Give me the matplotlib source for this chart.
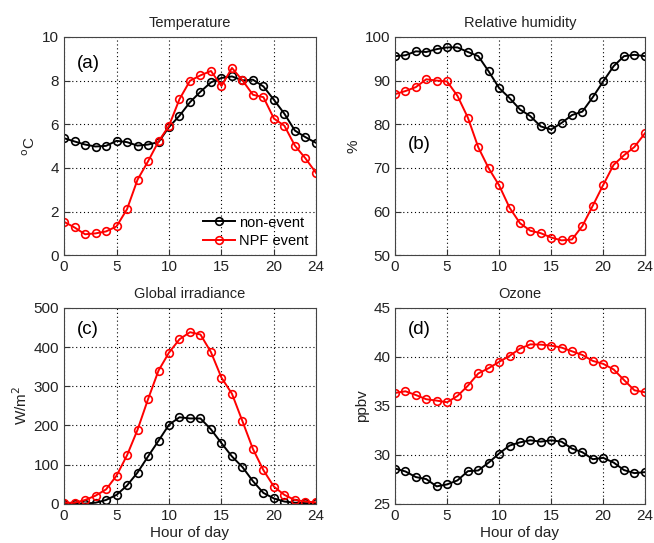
import matplotlib
matplotlib.use("Agg")
import matplotlib.pyplot as plt
import numpy as np

plt.rcParams['font.family'] = ['Liberation Sans', 'DejaVu Sans']

hours = list(range(25))

temp_non = [5.36, 5.21, 5.07, 4.98, 5.01, 5.24, 5.18, 5.02, 5.07, 5.18, 5.87, 6.39, 7.01,
            7.49, 7.92, 8.12, 8.19, 8.01, 8.04, 7.73, 7.12, 6.48, 5.71, 5.41, 5.15]
temp_npf = [1.53, 1.27, 0.96, 1.00, 1.09, 1.32, 2.11, 3.46, 4.30, 5.21, 5.93, 7.15, 7.99,
            8.24, 8.44, 7.75, 8.58, 8.01, 7.35, 7.24, 6.26, 5.93, 5.02, 4.44, 3.78]

rh_non = [95.6, 95.8, 96.7, 96.55, 97.2, 97.6, 97.6, 96.55, 95.6, 92.1, 88.3, 86.0, 83.4,
          81.85, 79.5, 78.8, 80.3, 82.1, 82.9, 86.2, 89.8, 93.3, 95.6, 95.9, 95.6]
rh_npf = [86.9, 87.6, 88.5, 90.3, 90.0, 89.8, 86.5, 81.5, 74.7, 69.9, 66.0, 60.9, 57.35,
          55.6, 55.05, 54.05, 53.4, 53.6, 56.7, 61.35, 66.1, 70.7, 72.9, 74.8, 77.9]

irr_non = [1, 1, 1, 3, 10, 23, 47, 80, 121, 161, 202, 221, 218,
           218, 190, 155, 121, 94, 58, 28, 14, 6, 3, 2, 2]
irr_npf = [3, 3, 10, 21, 37, 72, 124, 189, 267, 340, 386, 420, 438,
           432, 387, 322, 281, 211, 140, 86, 44, 23, 10, 6, 4]

o3_non = [28.61, 28.31, 27.74, 27.53, 26.79, 26.99, 27.40, 28.34, 28.41, 29.22, 30.14, 30.95, 31.28,
          31.49, 31.35, 31.49, 31.35, 30.64, 30.27, 29.56, 29.70, 29.22, 28.45, 28.14, 28.24]
o3_npf = [36.32, 36.49, 36.11, 35.68, 35.54, 35.37, 36.01, 37.06, 38.31, 38.85, 39.49, 40.10, 40.84,
          41.28, 41.25, 41.15, 40.95, 40.57, 40.20, 39.59, 39.29, 38.72, 37.64, 36.59, 36.39]

xticks = [0, 5, 10, 15, 20, 24]

panels = [
    dict(title='Temperature', non=temp_non, npf=temp_npf, ylim=(0, 10), yticks=[0, 2, 4, 6, 8, 10],
         ylabel='$^{\\mathrm{o}}$C', label='(a)', lab_pos=(0.05, 0.88), xlabel=None),
    dict(title='Relative humidity', non=rh_non, npf=rh_npf, ylim=(50, 100), yticks=[50, 60, 70, 80, 90, 100],
         ylabel='%', label='(b)', lab_pos=(0.05, 0.505), xlabel=None),
    dict(title='Global irradiance', non=irr_non, npf=irr_npf, ylim=(0, 500), yticks=[0, 100, 200, 300, 400, 500],
         ylabel='W/m$^2$', label='(c)', lab_pos=(0.05, 0.89), xlabel='Hour of day'),
    dict(title='Ozone', non=o3_non, npf=o3_npf, ylim=(25, 45), yticks=[25, 30, 35, 40, 45],
         ylabel='ppbv', label='(d)', lab_pos=(0.05, 0.89), xlabel='Hour of day'),
]

fig = plt.figure(figsize=(6.54, 5.43), dpi=100)
positions = [
    [0.098, 0.530, 0.385, 0.402],
    [0.604, 0.530, 0.382, 0.402],
    [0.098, 0.072, 0.385, 0.361],
    [0.604, 0.072, 0.382, 0.361],
]

for pos, p in zip(positions, panels):
    ax = fig.add_axes(pos)
    ax.plot(hours, p['non'], '-o', color='black', lw=1.4, ms=5.5, mfc='none', mew=1.2, label='non-event')
    ax.plot(hours, p['npf'], '-o', color='red', lw=1.4, ms=5.5, mfc='none', mew=1.2, label='NPF event')
    ax.set_xlim(0, 24)
    ax.set_ylim(*p['ylim'])
    ax.set_xticks(xticks)
    ax.set_yticks(p['yticks'])
    ax.grid(True, linestyle=(0, (1, 2.5)), color='black', linewidth=0.8)
    ax.tick_params(direction='in', labelsize=11, length=4, color='#333333', labelcolor='#222222')
    for s in ax.spines.values():
        s.set_color('#444444')
        s.set_linewidth(0.8)
    ax.set_title(p['title'], fontsize=10.5, color='#222222', pad=7)
    ax.set_ylabel(p['ylabel'], fontsize=11, color='#222222', labelpad=3)
    if p['xlabel']:
        ax.set_xlabel(p['xlabel'], fontsize=11, color='#222222', labelpad=2)
    ax.text(p['lab_pos'][0], p['lab_pos'][1], p['label'], transform=ax.transAxes,
            fontsize=13.5, va='center', ha='left')
    if p['label'] == '(a)':
        ax.legend(loc='lower right', frameon=False, fontsize=10.5, handlelength=2.2,
                  handletextpad=0.3, borderaxespad=0.1, labelspacing=0.3)

fig.savefig('out.png', dpi=100)
